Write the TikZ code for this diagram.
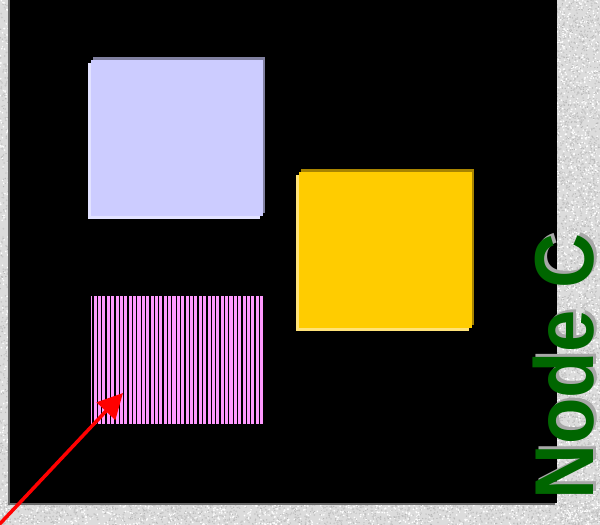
\documentclass[tikz,border=0pt]{standalone}
\usepackage{fontspec}
\setsansfont{Liberation Sans}
\usetikzlibrary{arrows.meta,shadows}

\definecolor{granite}{HTML}{DCDCDC}
\definecolor{speckdark}{HTML}{B8B8B8}
\definecolor{speckmid}{HTML}{C8C8C8}
\definecolor{panelrim}{HTML}{6A6A6A}
\definecolor{lavender}{HTML}{CCCCFF}
\definecolor{lavdark}{HTML}{8080A0}
\definecolor{lavlight}{HTML}{E2E2FF}
\definecolor{amber}{HTML}{FFCC00}
\definecolor{amberdark}{HTML}{A88400}
\definecolor{amberlight}{HTML}{FFE278}
\definecolor{orchid}{HTML}{FF99FF}
\definecolor{labelgreen}{HTML}{006600}
\definecolor{labelshade}{HTML}{A8A8A8}

\tikzset{
  box/.style={anchor=north west, inner sep=0pt, outer sep=0pt},
  bevel/.style 2 args={
    general shadow={fill=#1, shadow xshift=2pt, shadow yshift=3pt},
    general shadow={fill=#2, shadow xshift=-3pt, shadow yshift=-3pt}},
  stripe/.style={black, line width=1.3pt},
  bigtext/.style={font=\sffamily\bfseries\fontsize{76}{76}\selectfont,
    inner sep=0pt, anchor=base west, rotate=90},
}

\begin{document}
\begin{tikzpicture}[x=1pt,y=-1pt]
                \useasboundingbox (0,0) rectangle (600,525);
                \clip (0,0) rectangle (600,525);

                % Granite background (specks only where the panel leaves it bare)
                \fill[granite] (0,0) rectangle (600,525);
                \pgfmathsetseed{11}
                \foreach \xa/\xb/\ya/\yb/\n in {555/600/0/525/1300, 0/600/502/525/700, 0/10/0/525/160} {
                    \foreach \i in {1,...,\n} {
                        \fill[white] ({\xa+rnd*(\xb-\xa)},{\ya+rnd*(\yb-\ya)}) circle (0.9pt);
                        \fill[speckdark] ({\xa+rnd*(\xb-\xa)},{\ya+rnd*(\yb-\ya)}) circle (0.7pt);
                        \fill[speckmid] ({\xa+rnd*(\xb-\xa)},{\ya+rnd*(\yb-\ya)}) circle (1pt);
                    }
                }

                % Black panel with rim
                \fill[panelrim] (8,0) rectangle (555,505);
                \fill[black] (10,0) rectangle (557,503);

                % Boxes
                \node[box, bevel={lavdark}{lavlight}, fill=lavender,
                      minimum width=172pt, minimum height=156pt] (boxA) at (91,60) {};
                \node[box, bevel={amberdark}{amberlight}, fill=amber,
                      minimum width=173pt, minimum height=156pt] (boxB) at (299,172) {};
                \node[box, fill=orchid,
                      minimum width=172pt, minimum height=128pt] (boxC) at (91,296) {};
                \foreach \k in {0,...,38}
                    \draw[stripe] ([xshift=2pt+\k*4.38pt]boxC.north west)
                        -- ([xshift=2pt+\k*4.38pt]boxC.south west);

                % Rotated label with shadow
                \node[bigtext, text=labelshade] (labelShade) at (596,497)
                    {\scalebox{1}[1.1]{Node C}};
                \node[bigtext, text=labelgreen] (labelC) at (593,500)
                    {\scalebox{1}[1.1]{Node C}};

                % Red arrow into the striped box
                \coordinate (arrowTail) at (-4,528);
                \coordinate (arrowTip) at (123,393);
                \draw[-{Triangle[length=25pt,width=25pt]}, red, line width=3.5pt]
                    (arrowTail) -- (arrowTip);
\end{tikzpicture}
\end{document}
